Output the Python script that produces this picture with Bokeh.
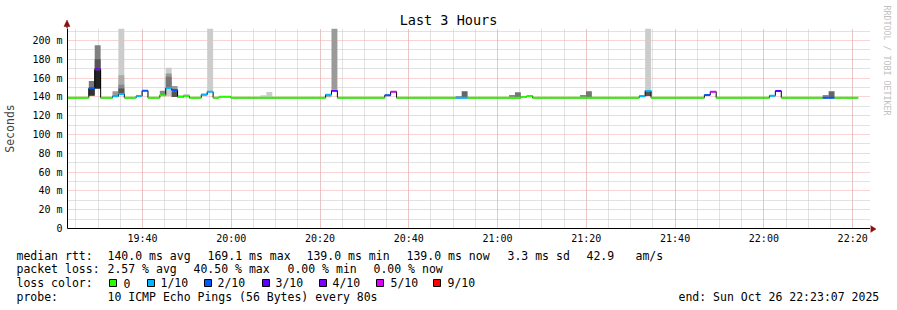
import datetime as dt
from bokeh.plotting import figure
from bokeh.layouts import column, row
from bokeh.models import Range1d, FixedTicker, DatetimeTickFormatter
from bokeh.core.properties import value
from bokeh.embed import file_html
from bokeh.resources import INLINE

# ---------------- data ----------------
graph_start = "2025-10-26 19:23:07"
graph_end = "2025-10-26 22:23:07"
step_zero = "2025-10-26 19:27:55"   # start of rrd step index 0
step_seconds = 80

# median rtt segments (inclusive step indices), value in ms, loss count (of 10)
seg_first = [-4, 0, 1, 2, 4, 5, 6, 8, 9, 10, 12, 13, 14, 15, 16, 17, 19, 20, 21, 22,
             24, 40, 41, 42, 50, 51, 52, 62, 64, 73, 74, 75, 93, 94, 95, 104, 105,
             106, 115, 116, 117, 124, 126]
seg_last = [-1, 0, 1, 3, 4, 5, 7, 8, 9, 11, 12, 13, 14, 15, 16, 18, 19, 20, 21, 23,
            39, 40, 41, 49, 50, 51, 61, 63, 72, 73, 74, 92, 93, 94, 103, 104, 105,
            114, 115, 116, 123, 125, 129]
seg_median = [139.0, 149.1, 169.4, 139.0, 140.6, 143.0, 139.0, 140.9, 146.6, 139.0,
              141.7, 149.5, 147.3, 139.9, 140.9, 139.0, 142.3, 145.5, 139.0, 140.2,
              139.0, 142.3, 146.6, 139.0, 141.7, 145.5, 139.0, 139.0, 139.0, 139.9,
              141.0, 139.0, 140.6, 146.6, 139.0, 142.0, 145.5, 139.0, 141.3, 146.3,
              139.0, 139.0, 139.0]
seg_loss = [0, 2, 4, 0, 1, 1, 0, 1, 2, 0, 0, 1, 2, 0, 0, 0, 1, 1, 0, 0,
            0, 1, 3, 0, 2, 5, 0, 1, 0, 0, 0, 0, 1, 1, 0, 2, 5, 0, 1, 3, 0, 2, 0]

# smoke bands (drawn in order): step index, low ms, high ms, shade
smoke_step = [0, 0, 1, 1, 1, 4, 5, 5, 5, 5, 12, 13, 13, 13, 14, 14, 15, 16, 19, 20,
              29, 30, 40, 41, 62, 63, 71, 72, 83, 84, 93, 94, 94, 124, 125]
smoke_lo = [141.0, 141.5, 149.0, 149.0, 149.0, 141.0, 143.0, 143.0, 143.0, 143.0,
            142.0, 141.0, 150.0, 150.0, 140.0, 140.0, 139.9, 140.9, 142.3, 146.0,
            139.6, 139.6, 139.5, 148.0, 139.5, 139.5, 139.5, 139.5, 139.5, 139.5,
            140.6, 148.0, 141.0, 139.5, 139.5]
smoke_hi = [157.0, 149.0, 195.0, 180.0, 168.0, 146.0, 212.7, 163.0, 153.0, 149.0,
            146.5, 171.0, 165.0, 161.5, 151.6, 146.0, 142.0, 143.0, 144.0, 212.7,
            141.7, 145.2, 142.0, 212.7, 141.0, 146.0, 142.0, 145.0, 142.0, 146.0,
            142.0, 212.7, 146.0, 142.0, 146.0]
smoke_shade = ["#7a7a7a", "#333333", "#808080", "#555555", "#222222", "#999999",
               "#cccccc", "#aaaaaa", "#888888", "#555555", "#888888", "#cccccc",
               "#999999", "#777777", "#999999", "#555555", "#cccccc", "#cccccc",
               "#cccccc", "#cccccc", "#cccccc", "#cccccc", "#aaaaaa", "#9a9a9a",
               "#999999", "#666666", "#888888", "#777777", "#888888", "#777777",
               "#aaaaaa", "#cccccc", "#555555", "#888888", "#666666"]

loss_levels = [0, 1, 2, 3, 4, 5, 9]
loss_labels = ["0", "1/10", "2/10", "3/10", "4/10", "5/10", "9/10"]
loss_colors = ["#26ff00", "#00b8ff", "#0059ff", "#5e00ff", "#7e00ff", "#dd00ff", "#ff0000"]

y_tick_values = [0, 20, 40, 60, 80, 100, 120, 140, 160, 180, 200]
y_tick_labels = ["0", "20 m", "40 m", "60 m", "80 m", "100 m", "120 m", "140 m",
                 "160 m", "180 m", "200 m"]
y_minor_values = [10, 30, 50, 70, 90, 110, 130, 150, 170, 190, 210]
x_tick_labels = ["19:40", "20:00", "20:20", "20:40", "21:00", "21:20", "21:40",
                 "22:00", "22:20"]

title_text = "Last 3 Hours"
y_label = "Seconds"
watermark = "RRDTOOL / TOBI OETIKER"
stats_line1 = [("median rtt:", 16), ("140.0 ms avg", 107), ("169.1 ms max", 207),
               ("139.0 ms min", 306), ("139.0 ms now", 406), ("3.3 ms sd", 507),
               ("42.9", 586), ("am/s", 635)]
stats_line2 = [("packet loss:", 16), ("2.57 % avg", 107), ("40.50 % max", 193),
               ("0.00 % min", 287), ("0.00 % now", 373)]
stats_line3 = [("loss color:", 16)]
stats_line4 = [("probe:", 16), ("10 ICMP Echo Pings (56 Bytes) every 80s", 107),
               ("end: Sun Oct 26 22:23:07 2025", 678)]
legend_box_x = [109, 147, 204, 262, 319, 376, 433]
legend_text_x = [123, 160, 217, 275, 332, 390, 447]

# ---------------- helpers ----------------
def ms(s):
    return dt.datetime.strptime(s, "%Y-%m-%d %H:%M:%S").replace(
        tzinfo=dt.timezone.utc).timestamp() * 1000.0

T0 = ms(step_zero)
STEP = step_seconds * 1000.0
def step_start(k):
    return T0 + k * STEP

FONT = "DejaVu Sans Mono"
W, H = 897, 310
LEFT, TOP, FW, FH = 66, 28, 800, 200     # 3-hour data area in canvas pixels
EXTRA_R = 4                              # axis runs a little past the data area
LEFT_W = LEFT + FW + EXTRA_R             # width of left column (870)
MAIN_H = 249
YMAX = 212.77
ARROW = "#8b1010"

x0, x1 = ms(graph_start), ms(graph_end)
PXX = FW / (x1 - x0)

def bare(width, height, xr, yr):
    f = figure(width=width, height=height, x_range=Range1d(*xr), y_range=Range1d(*yr),
               output_backend="svg", toolbar_location=None, min_border=0,
               x_axis_location=None, y_axis_location=None, outline_line_color=None,
               background_fill_color="white", border_fill_color="white")
    f.grid.visible = False
    return f

# ---- top strip: title + y axis arrow ----
top = bare(LEFT_W, TOP, (0, LEFT_W), (TOP, 0))
top.text(x=[448], y=[19], text=[title_text], text_font=value(FONT),
         text_font_size=value("13.5px"), text_color="#000000",
         text_align="center", text_baseline="middle")
top.segment(x0=[LEFT + 0.5], y0=[TOP], x1=[LEFT + 0.5], y1=[23], line_color="#000000",
            line_width=1)
top.patch(x=[LEFT - 2.5, LEFT + 3.5, LEFT + 0.5], y=[26, 26, 19.5],
          fill_color=ARROW, line_color=ARROW, line_width=0.5)

# ---- main plot ----
p = figure(width=LEFT_W, height=MAIN_H - TOP,
           x_range=Range1d(x0, x0 + (FW + EXTRA_R) / PXX), y_range=Range1d(0, YMAX),
           x_axis_type="datetime", output_backend="svg", toolbar_location=None,
           min_border_left=LEFT, min_border_right=0, min_border_top=0,
           min_border_bottom=MAIN_H - TOP - FH,
           background_fill_color="white", border_fill_color="white",
           outline_line_color=None)

p.quad(left=[step_start(k) for k in smoke_step],
       right=[step_start(k + 1) for k in smoke_step],
       bottom=smoke_lo, top=smoke_hi, fill_color=smoke_shade, line_color=None)

st, en, med, col = [], [], [], []
for a, b, m, l in zip(seg_first, seg_last, seg_median, seg_loss):
    for k in range(a, b + 1):
        st.append(step_start(k)); en.append(step_start(k + 1)); med.append(m)
        col.append(loss_colors[loss_levels.index(l)])
p.step(x=st + [en[-1]], y=med + [med[-1]], mode="after", line_color="#000000",
       line_width=1)
p.segment(x0=st, x1=en, y0=med, y1=med, line_color=col, line_width=2)

xt = [ms("2025-10-26 " + t + ":00") for t in x_tick_labels]
x_minor = [ms("2025-10-26 19:25:00") + i * 300000 for i in range(36)]
p.xaxis.ticker = FixedTicker(ticks=xt, minor_ticks=x_minor)
p.xaxis.formatter = DatetimeTickFormatter(minutes="%H:%M", hours="%H:%M",
                                          minsec="%H:%M", seconds="%H:%M",
                                          days="%H:%M")
p.yaxis.ticker = FixedTicker(ticks=y_tick_values, minor_ticks=y_minor_values)
p.yaxis.major_label_overrides = {v: t for v, t in zip(y_tick_values, y_tick_labels)}
for ax in (p.xaxis[0], p.yaxis[0]):
    ax.axis_line_color = "#000000"
    ax.major_tick_in = 0
    ax.major_tick_out = 0
    ax.minor_tick_in = 0
    ax.minor_tick_out = 0
    ax.major_label_text_font = FONT
    ax.major_label_text_font_size = "10px"
    ax.major_label_text_color = "#000000"
p.xaxis.major_label_standoff = 4
p.yaxis.major_label_standoff = 5
p.yaxis.axis_label = y_label
p.yaxis.axis_label_text_font = FONT
p.yaxis.axis_label_text_font_size = "11.5px"
p.yaxis.axis_label_text_font_style = "normal"
p.yaxis.axis_label_standoff = 12

for g in (p.xgrid[0], p.ygrid[0]):
    g.grid_line_color = "#f0a8a8"
    g.grid_line_dash = "1 1"
    g.minor_grid_line_color = "#c4c4c4"
    g.minor_grid_line_dash = "1 1"

# ---- right strip: watermark + x axis arrow ----
right = bare(W - LEFT_W, MAIN_H, (LEFT_W, W), (MAIN_H, 0))
right.text(x=[886], y=[5], text=[watermark], angle=-1.5707963,
           text_font=value(FONT), text_font_size=value("8.3px"), text_color="#c0c0c0",
           text_align="left", text_baseline="middle")
right.patch(x=[LEFT_W, LEFT_W, LEFT_W + 5.5], y=[225, 232, 228.5],
            fill_color=ARROW, line_color=ARROW, line_width=0.5)

# ---- legend / statistics area ----
lg = bare(W, H - MAIN_H, (0, W), (H, MAIN_H))
tx, ty, tt = [], [], []
for line, yy in ((stats_line1, 255), (stats_line2, 268.5), (stats_line3, 282.5),
                 (stats_line4, 296)):
    for t, x in line:
        tx.append(x); ty.append(yy); tt.append(t)
for x, t in zip(legend_text_x, loss_labels):
    tx.append(x); ty.append(282.5); tt.append(t)
lg.text(x=tx, y=ty, text=tt, text_font=value(FONT), text_font_size=value("11.5px"),
        text_color="#000000", text_align="left", text_baseline="middle")
lg.quad(left=legend_box_x, right=[b + 7 for b in legend_box_x],
        top=[279] * len(legend_box_x), bottom=[286] * len(legend_box_x),
        fill_color=loss_colors, line_color="#000000", line_width=1)

layout = column(row(column(top, row(p), spacing=0), right, spacing=0), lg, spacing=0)
open("out.html", "w").write(file_html(layout, INLINE))
